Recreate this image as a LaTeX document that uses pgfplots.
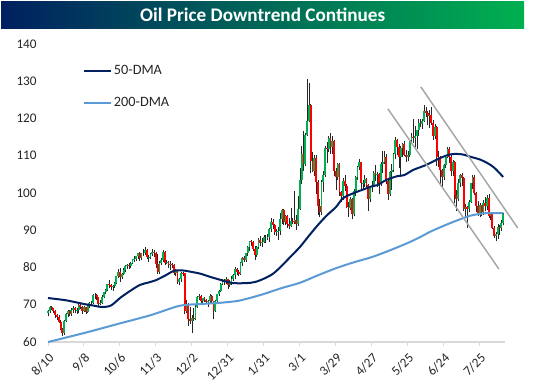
\documentclass[border=0pt]{standalone}
\usepackage{pgfplots}
\pgfplotsset{compat=1.18}
\usepackage{pgfplotstable}
\usepackage{fontspec}
\setmainfont{Carlito}
\definecolor{navy}{HTML}{002060}
\definecolor{ltblue}{HTML}{5B9BD5}
\definecolor{upg}{HTML}{00B050}
\definecolor{dnr}{HTML}{FF0000}
\definecolor{chan}{HTML}{A6A6A6}
\definecolor{lbl}{HTML}{262626}
\definecolor{axgray}{HTML}{D9D9D9}

\pgfplotstableread{
x o h l c
0 67.7 68.7 66.9 68.3
1 68.3 69.6 67.9 69.3
2 69.3 69.8 68.5 69.1
3 69.1 69.2 67.8 68.4
4 68.4 68.6 66.4 67.3
5 67.3 67.6 65.9 66.6
6 66.6 67.3 65.1 65.5
7 65.5 65.8 63.1 63.5
8 63.5 63.7 61.7 62.3
9 62.3 65.9 62.0 65.6
10 65.6 67.8 65.3 67.5
11 67.5 68.6 66.8 68.4
12 68.4 68.7 66.9 67.4
13 67.4 69.0 67.0 68.7
14 68.7 69.8 67.9 69.2
15 69.2 69.4 67.7 68.5
16 68.5 69.0 67.6 68.6
17 68.6 70.2 67.8 70.0
18 70.0 70.4 68.8 69.3
19 69.3 69.6 67.6 68.4
20 68.4 69.6 68.1 69.3
21 69.3 69.4 67.6 68.1
22 68.1 70.0 67.9 69.7
23 69.7 70.8 69.2 70.5
24 70.5 71.0 69.6 70.5
25 70.5 72.8 70.3 72.6
26 72.6 73.1 71.6 72.6
27 72.6 72.8 71.4 72.0
28 72.0 72.1 69.6 70.3
29 70.3 71.2 69.9 70.6
30 70.6 72.5 70.2 72.2
31 72.2 73.5 71.9 73.3
32 73.3 74.2 72.9 74.0
33 74.0 75.6 73.6 75.5
34 75.5 76.7 74.4 75.3
35 75.3 75.6 73.9 74.8
36 74.8 75.3 73.7 75.0
37 75.0 76.2 74.6 75.9
38 75.9 77.8 75.5 77.6
39 77.6 79.5 77.2 78.9
40 78.9 79.8 76.1 77.4
41 77.4 78.6 77.0 78.3
42 78.3 79.8 77.9 79.4
43 79.4 80.8 78.9 80.5
44 80.5 81.0 79.6 80.6
45 80.6 81.2 79.7 80.4
46 80.4 81.6 79.8 81.3
47 81.3 82.4 80.9 82.3
48 82.3 83.0 81.5 82.4
49 82.4 83.1 81.8 83.0
50 83.0 84.0 82.3 83.9
51 83.9 84.2 81.7 82.5
52 82.5 84.0 81.9 83.8
53 83.8 85.0 83.1 83.8
54 83.8 85.4 83.4 84.7
55 84.7 85.0 82.3 82.7
56 82.7 83.4 81.6 82.8
57 82.8 84.0 82.3 83.6
58 83.6 84.9 83.0 84.1
59 84.1 84.6 82.7 83.9
60 83.9 84.1 80.0 80.9
61 80.9 83.5 78.3 78.8
62 78.8 81.8 78.3 81.3
63 81.3 82.6 80.6 81.9
64 81.9 84.7 81.5 84.2
65 84.2 84.4 80.6 81.3
66 81.3 82.1 80.9 81.6
67 81.6 81.8 79.9 80.8
68 80.8 81.8 79.3 80.9
69 80.9 81.2 79.9 80.8
70 80.8 80.9 78.0 78.4
71 78.4 79.7 77.6 79.0
72 79.0 79.2 75.6 76.1
73 76.1 77.2 75.2 76.8
74 76.8 78.8 76.2 78.5
75 78.5 78.8 77.6 78.4
76 78.4 78.6 67.4 68.2
77 68.2 71.2 67.9 70.0
78 70.0 70.6 64.4 66.2
79 66.2 69.4 64.8 65.6
80 65.6 67.3 62.4 66.5
81 66.5 69.1 65.7 66.3
82 66.3 69.9 66.0 69.5
83 69.5 72.3 69.2 72.1
84 72.1 72.9 71.4 72.4
85 72.4 72.7 70.4 70.9
86 70.9 71.9 70.2 71.7
87 71.7 72.1 70.8 71.3
88 71.3 71.6 70.1 70.7
89 70.7 71.2 69.3 70.9
90 70.9 72.8 70.5 72.4
91 72.4 72.5 70.4 70.9
92 70.9 71.1 66.1 68.2
93 68.2 71.3 68.0 71.1
94 71.1 73.0 70.8 72.8
95 72.8 73.9 72.4 73.8
96 73.8 75.8 73.4 75.6
97 75.6 76.9 75.2 76.0
98 76.0 77.0 75.4 76.6
99 76.6 77.4 75.7 77.0
100 77.0 77.0 74.3 75.2
101 75.2 76.7 74.9 76.1
102 76.1 77.6 75.4 77.0
103 77.0 78.2 76.4 77.9
104 77.9 80.2 76.8 79.5
105 79.5 80.0 78.0 78.9
106 78.9 79.3 77.6 78.2
107 78.2 81.5 78.1 81.2
108 81.2 82.9 80.5 82.6
109 82.6 83.0 81.4 82.1
110 82.1 84.0 81.6 83.8
111 83.8 85.7 83.2 85.4
112 85.4 87.0 84.3 87.0
113 87.0 87.5 85.7 86.9
114 86.9 87.1 84.4 85.1
115 85.1 85.7 81.9 83.3
116 83.3 85.9 82.9 85.6
117 85.6 87.9 85.1 87.4
118 87.4 88.5 85.7 86.6
119 86.6 88.0 85.6 86.8
120 86.8 88.6 86.5 88.2
121 88.2 88.8 86.6 88.2
122 88.2 89.0 87.4 88.3
123 88.3 90.5 86.9 90.3
124 90.3 93.2 89.5 92.3
125 92.3 93.0 90.3 91.3
126 91.3 91.8 88.8 89.4
127 89.4 90.3 88.4 89.7
128 89.7 91.0 87.5 89.9
129 89.9 94.7 88.7 93.1
130 93.1 95.8 91.7 95.5
131 95.5 95.8 91.3 92.1
132 92.1 94.0 91.4 93.7
133 93.7 94.1 90.6 91.8
134 91.8 93.4 90.4 91.1
135 91.1 96.0 90.8 92.4
136 92.4 93.4 91.6 92.1
137 92.1 100.5 91.8 92.8
138 92.8 94.0 90.1 91.6
139 91.6 99.1 91.2 95.7
140 95.7 106.8 95.4 103.4
141 103.4 112.5 102.3 110.6
142 110.6 116.6 106.0 107.7
143 107.7 116.0 107.3 115.7
144 115.7 130.5 115.4 119.4
145 119.4 129.4 119.0 123.7
146 123.7 123.9 105.3 108.7
147 108.7 110.9 105.7 106.0
148 106.0 110.1 104.5 109.3
149 109.3 110.1 99.8 103.0
150 103.0 103.5 94.2 96.4
151 96.4 98.5 93.5 95.0
152 95.0 103.6 94.1 103.0
153 103.0 105.9 100.4 104.7
154 104.7 112.7 104.3 112.1
155 112.1 113.8 108.1 111.8
156 111.8 115.4 110.9 114.9
157 114.9 116.0 110.6 112.3
158 112.3 115.3 110.6 113.9
159 113.9 114.3 104.5 106.0
160 106.0 106.7 100.9 104.2
161 104.2 108.1 103.4 107.8
162 107.8 108.1 99.3 100.3
163 100.3 100.6 97.7 99.3
164 99.3 104.0 98.1 103.3
165 103.3 104.7 100.6 102.0
166 102.0 102.5 95.9 96.2
167 96.2 97.6 93.6 96.0
168 96.0 98.9 95.4 98.3
169 98.3 98.6 92.9 94.3
170 94.3 101.0 93.7 100.6
171 100.6 104.6 99.1 104.3
172 104.3 107.2 103.4 107.0
173 107.0 109.2 106.3 108.2
174 108.2 108.3 101.2 102.6
175 102.6 103.4 101.0 102.8
176 102.8 104.7 101.5 103.8
177 103.8 104.0 101.6 102.1
178 102.1 102.3 95.3 98.5
179 98.5 102.0 97.5 101.7
180 101.7 103.2 100.3 102.0
181 102.0 106.0 101.6 105.4
182 105.4 107.5 103.2 104.7
183 104.7 105.6 101.6 105.2
184 105.2 105.4 99.6 102.4
185 102.4 108.4 102.0 107.8
186 107.8 111.4 105.5 108.3
187 108.3 111.4 107.8 109.8
188 109.8 110.4 102.4 103.1
189 103.1 104.0 98.2 99.8
190 99.8 106.0 99.2 105.7
191 105.7 107.8 100.9 106.1
192 106.1 110.8 105.7 110.5
193 110.5 115.0 109.0 114.2
194 114.2 114.4 110.2 112.4
195 112.4 113.2 106.8 109.6
196 109.6 112.5 104.9 112.2
197 112.2 113.3 109.8 113.2
198 113.2 113.9 109.9 110.3
199 110.3 111.6 108.2 109.8
200 109.8 111.3 108.5 110.3
201 110.3 114.5 109.8 114.1
202 114.1 116.0 113.7 115.1
203 115.1 119.9 113.4 114.7
204 114.7 118.0 112.3 115.3
205 115.3 117.0 111.8 116.9
206 116.9 120.0 115.4 118.9
207 118.9 120.0 117.8 118.5
208 118.5 119.8 117.1 119.4
209 119.4 123.7 119.0 122.1
210 122.1 123.2 120.5 121.5
211 121.5 122.0 118.3 120.7
212 120.7 122.3 117.5 120.9
213 120.9 123.1 118.3 118.9
214 118.9 119.6 114.3 115.3
215 115.3 118.5 114.6 117.6
216 117.6 118.1 107.3 109.6
217 109.6 111.3 107.1 109.5
218 109.5 110.0 101.8 106.2
219 106.2 106.5 101.7 104.3
220 104.3 107.9 103.6 107.6
221 107.6 110.2 106.7 109.6
222 109.6 112.3 109.3 111.8
223 111.8 112.3 108.1 109.8
224 109.8 110.4 104.6 105.8
225 105.8 108.9 104.6 108.4
226 108.4 108.6 97.4 99.5
227 99.5 100.9 95.1 98.5
228 98.5 103.8 97.9 102.7
229 102.7 105.1 101.5 104.8
230 104.8 105.5 101.9 104.1
231 104.1 104.3 95.1 95.8
232 95.8 97.0 93.2 96.3
233 96.3 96.5 90.6 95.8
234 95.8 98.1 94.8 97.6
235 97.6 102.8 97.4 102.6
236 102.6 104.8 101.2 104.2
237 104.2 104.9 99.4 99.9
238 99.9 100.3 94.9 96.4
239 96.4 97.9 93.9 94.7
240 94.7 97.2 93.5 96.7
241 96.7 96.9 93.9 95.0
242 95.0 98.0 94.1 97.3
243 97.3 98.9 95.1 96.4
244 96.4 99.5 95.4 98.6
245 98.6 99.6 93.2 93.9
246 93.9 95.0 92.8 94.4
247 94.4 94.9 90.4 90.7
248 90.7 91.1 87.8 88.5
249 88.5 89.5 87.0 89.0
250 89.0 91.6 87.6 90.8
251 90.8 91.4 88.6 90.5
252 90.5 92.8 89.7 91.9
253 91.9 94.7 91.3 94.3
}\candles

\begin{document}
\begin{tikzpicture}
\fill[white] (0pt,0pt) rectangle (403.5pt,291pt);
\shade[left color=navy, right color=upg] (0.75pt,270pt) rectangle (393pt,290.25pt);
\node[text=white, font=\bfseries\fontsize{14.4}{16}\selectfont] at (197pt,280.1pt) {Oil Price Downtrend Continues};
\begin{axis}[
  at={(36pt,34.5pt)}, anchor=south west,
  scale only axis, width=342.75pt, height=223.5pt,
  xmin=0, xmax=254, ymin=60, ymax=140,
  xtick={0,20,...,240},
  xticklabels={8/10,9/8,10/6,11/3,12/2,12/31,1/31,3/1,3/29,4/27,5/25,6/24,7/25},
  ytick={60,70,...,140},
  axis x line*=bottom, axis y line*=left,
  y axis line style={draw=none},
  x axis line style={draw=axgray, line width=0.9pt},
  ytick style={draw=none},
  xtick style={draw=axgray, line width=0.75pt},
  tick align=outside, major tick length=3pt,
  xticklabel style={rotate=45, anchor=north east, font=\fontsize{9.9}{11}\selectfont, text=lbl},
  yticklabel style={font=\fontsize{9.9}{11}\selectfont, text=lbl, xshift=-2pt},
  /pgf/number format/assume math mode=true,
  clip=false,
  legend style={at={(0.0766,0.935)}, anchor=north west, draw=none, fill=none,
    font=\fontsize{10.7}{12}\selectfont, text=lbl, row sep=12.5pt, inner sep=0pt,
    nodes={inner sep=1.5pt}},
  legend cell align=left,
  legend image code/.code={\draw[#1] (0pt,0pt) -- (20pt,0pt);},
]
\addplot[forget plot, quiver={u=0, v=\thisrow{h}-\thisrow{l}}, draw=black!85, line width=0.4pt] table[x=x, y=l] {\candles};
\addplot[forget plot, quiver={u=0, v=\thisrow{c}-\thisrow{o}}, draw=upg, line width=1.4pt,
  restrict expr to domain={\thisrow{c}-\thisrow{o}}{0:1000}] table[x=x, y=o] {\candles};
\addplot[forget plot, quiver={u=0, v=\thisrow{c}-\thisrow{o}}, draw=dnr, line width=1.4pt,
  restrict expr to domain={\thisrow{c}-\thisrow{o}}{-1000:-0.001}] table[x=x, y=o] {\candles};
\addplot[navy, line width=1.5pt, no marks, smooth] coordinates {
(0,71.8) (10,71.2) (20,70.2) (25,69.8) (30,69.4) (35,69.8) (40,71.8) (45,73.5) (51,75.3) (56,76.0)
(60,76.6) (65,77.8) (70,79.1) (75,79.2) (80,78.8) (85,78.3) (90,77.5) (95,76.8) (100,76.1) (103,75.8)
(110,75.8) (115,76.1) (120,77.0) (125,78.3) (130,80.5) (135,83.0) (140,85.5) (145,88.5) (150,91.4)
(155,94.0) (160,96.2) (164,98.6) (170,100.0) (175,100.9) (180,101.8) (183,102.1) (188,103.5) (194,104.5)
(198,104.8) (203,106.2) (210,107.5) (218,109.4) (223,110.3) (227,110.5) (231,110.3) (235,109.7)
(240,109.0) (244,108.1) (248,106.8) (253,104.3)};
\addlegendentry{50-DMA}
\addplot[ltblue, line width=1.5pt, no marks, smooth] coordinates {
(0,60.0) (20,62.4) (40,65.0) (57,67.2) (73,69.7) (85,70.2) (95,70.5) (105,71.0) (112,71.8) (120,72.9)
(130,74.5) (140,75.9) (150,77.9) (160,79.8) (170,81.4) (180,82.8) (190,84.6) (200,86.6) (207,88.2)
(212,89.5) (218,90.8) (225,92.2) (234,93.8) (240,94.4) (244,94.6) (253,94.6)};
\addlegendentry{200-DMA}
\addplot[forget plot, chan, line width=1.1pt] coordinates {(207.2,128.5) (261.1,90.6)};
\addplot[forget plot, chan, line width=1.1pt] coordinates {(188.9,122.6) (250.6,79.6)};
\end{axis}
\end{tikzpicture}
\end{document}
